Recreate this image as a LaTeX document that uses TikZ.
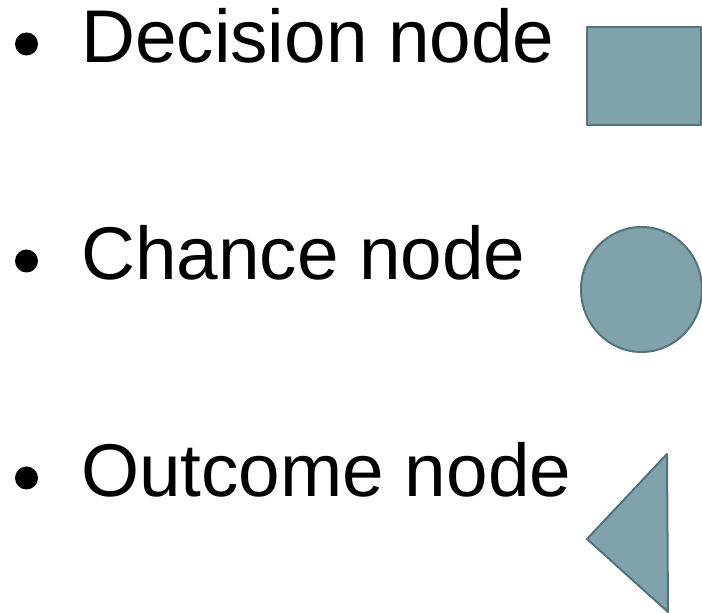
\documentclass[tikz,border=0pt]{standalone}
\usepackage{fontspec}
\setmainfont{Liberation Sans}
\usepackage{tikz}
\usetikzlibrary{positioning}
\usepackage{xcolor}

\definecolor{slate}{RGB}{127,162,171}
\definecolor{slatedark}{RGB}{84,114,122}

\begin{document}
\begin{tikzpicture}[x=1pt, y=1pt,
  item/.style={anchor=base west, inner sep=0, font=\fontsize{74.7}{80}\selectfont},
  dot/.style={circle, fill, inner sep=0, minimum size=23pt},
  symbol/.style={fill=slate, draw=slatedark, line width=2pt, line join=round}]

  \useasboundingbox (0, 0) rectangle (702, 613);

  % Bullets and labels
  \node[dot] (bdec) at (26.5, 569) {};
  \node[item] (dec) at (81, 550) {Decision node};

  \node[dot] (bcha) at (26.5, 352) {};
  \node[item] (cha) at (81, 333) {Chance node};

  \node[dot] (bout) at (26.5, 135) {};
  \node[item] (out) at (81, 116) {Outcome node};

  % Symbols
  \draw[symbol] (587, 488) rectangle (701, 586);
  \draw[symbol] (641.5, 323.5) ellipse (60.5pt and 62.5pt);
  \draw[symbol] (587, 74) -- (667, 159) -- (668, 1) -- cycle;

\end{tikzpicture}
\end{document}
